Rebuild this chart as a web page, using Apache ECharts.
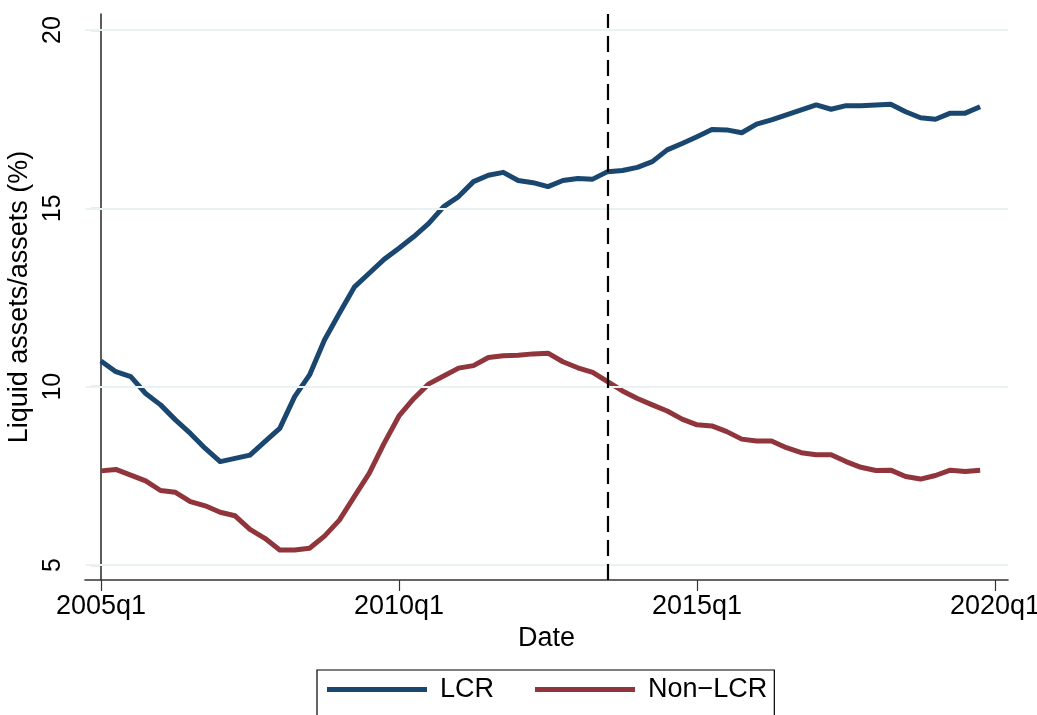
<!DOCTYPE html>
<html>
<head>
<meta charset="utf-8">
<script src="https://cdn.jsdelivr.net/npm/echarts@6/dist/echarts.min.js"></script>
<style>
html,body{margin:0;padding:0;background:#fff;}
#chart{width:1037px;height:715px;}
</style>
</head>
<body>
<div id="chart"></div>
<script>
const quarters = [
  '2005q1','2005q2','2005q3','2005q4','2006q1','2006q2','2006q3','2006q4',
  '2007q1','2007q2','2007q3','2007q4','2008q1','2008q2','2008q3','2008q4',
  '2009q1','2009q2','2009q3','2009q4','2010q1','2010q2','2010q3','2010q4',
  '2011q1','2011q2','2011q3','2011q4','2012q1','2012q2','2012q3','2012q4',
  '2013q1','2013q2','2013q3','2013q4','2014q1','2014q2','2014q3','2014q4',
  '2015q1','2015q2','2015q3','2015q4','2016q1','2016q2','2016q3','2016q4',
  '2017q1','2017q2','2017q3','2017q4','2018q1','2018q2','2018q3','2018q4',
  '2019q1','2019q2','2019q3','2019q4'
];
const lcr = [
  10.72,10.42,10.28,9.81,9.49,9.07,8.69,8.27,7.90,7.99,
  8.08,8.46,8.83,9.72,10.33,11.31,12.06,12.79,13.18,13.57,
  13.88,14.21,14.58,15.05,15.33,15.75,15.93,16.01,15.78,15.72,
  15.61,15.78,15.84,15.82,16.03,16.06,16.15,16.31,16.64,16.82,
  17.01,17.21,17.20,17.12,17.36,17.48,17.62,17.76,17.90,17.78,
  17.88,17.88,17.90,17.92,17.71,17.54,17.50,17.67,17.67,17.85
];
const nonLcr = [
  7.64,7.68,7.52,7.36,7.09,7.04,6.78,6.66,6.48,6.38,
  6.00,5.75,5.42,5.42,5.47,5.81,6.26,6.92,7.57,8.41,
  9.18,9.67,10.08,10.30,10.52,10.59,10.82,10.87,10.88,10.92,
  10.94,10.70,10.53,10.40,10.14,9.88,9.67,9.49,9.32,9.09,
  8.93,8.90,8.74,8.53,8.48,8.48,8.29,8.15,8.09,8.09,
  7.90,7.74,7.65,7.66,7.48,7.41,7.51,7.66,7.62,7.66
];
const xTickLabels = ['2005q1','2010q1','2015q1','2020q1'];
const yTicks = [5, 10, 15, 20];
const policyQuarter = '2013q3';

// quarter index helper (2020q1 lies beyond the data range)
function qIndex(q){
  const y = parseInt(q.slice(0,4),10), k = parseInt(q.slice(5),10);
  return (y - 2005) * 4 + (k - 1);
}
const xTickPos = xTickLabels.map(qIndex);
const lcrData = quarters.map((q,i)=>[qIndex(q), lcr[i]]);
const nonData = quarters.map((q,i)=>[qIndex(q), nonLcr[i]]);

const FONT = 'Liberation Sans, Arial, Helvetica, sans-serif';
const chart = echarts.init(document.getElementById('chart'), null, {renderer:'canvas'});
chart.setOption({
  animation:false,
  backgroundColor:'#ffffff',
  textStyle:{fontFamily:FONT},
  grid:{left:85, right:29, top:14, bottom:135, containLabel:false, outerBoundsMode:'none'},
  legend:{
    show:true,
    left:317, top:670,
    orient:'horizontal',
    borderColor:'#000', borderWidth:1.2,
    padding:[6, 7, 40, 10],
    itemGap:41,
    itemWidth:100, itemHeight:5,
    icon:'rect',
    textStyle:{fontSize:27, color:'#000', fontFamily:FONT, padding:[0,0,0,8]},
    data:['LCR','Non\u2212LCR']
  },
  xAxis:{
    type:'value',
    min:-1.07, max:60.87,
    name:'Date', nameLocation:'middle', nameGap:41,
    nameTextStyle:{fontSize:27, color:'#000', fontFamily:FONT},
    axisLine:{show:true, lineStyle:{color:'#333', width:1.6}},
    axisTick:{show:true, customValues:xTickPos, length:11, lineStyle:{color:'#333', width:1.2}},
    axisLabel:{show:true, customValues:xTickPos, margin:13, fontSize:27, color:'#000', fontFamily:FONT,
      formatter:function(v){ const i = xTickPos.indexOf(Math.round(v)); return i>=0 ? xTickLabels[i] : ''; }},
    splitLine:{show:false}
  },
  yAxis:{
    type:'value',
    min:4.58, max:20.45,
    name:'Liquid assets/assets (%)', nameLocation:'middle', nameGap:46,
    nameTextStyle:{fontSize:27, color:'#000', fontFamily:FONT},
    axisLine:{show:true, lineStyle:{color:'#333', width:1.6}},
    axisTick:{show:true, customValues:yTicks, length:10, lineStyle:{color:'#333', width:1.2}},
    axisLabel:{show:true, customValues:yTicks, rotate:90, margin:19, fontSize:25, color:'#000', fontFamily:FONT},
    splitLine:{show:false}
  },
  series:[
    {
      name:'gridlines', type:'line', data:[], silent:true,
      markLine:{silent:true, symbol:'none', label:{show:false},
        lineStyle:{color:'#eaf2f3', width:1.8, type:'solid'},
        data:yTicks.map(v=>({yAxis:v}))},
      z:1
    },
    {
      name:'LCR', type:'line', data:lcrData, showSymbol:false, symbol:'none',
      lineStyle:{color:'#1a476f', width:5, join:'round'}, itemStyle:{color:'#1a476f'}, z:3
    },
    {
      name:'Non\u2212LCR', type:'line', data:nonData, showSymbol:false, symbol:'none',
      lineStyle:{color:'#90353b', width:5, join:'round'}, itemStyle:{color:'#90353b'}, z:3,
      markLine:{silent:true, symbol:'none', label:{show:false},
        lineStyle:{color:'#000', width:2.2, type:[16,8]},
        data:[{xAxis:qIndex(policyQuarter)}]}
    }
  ]
});
</script>
</body>
</html>
